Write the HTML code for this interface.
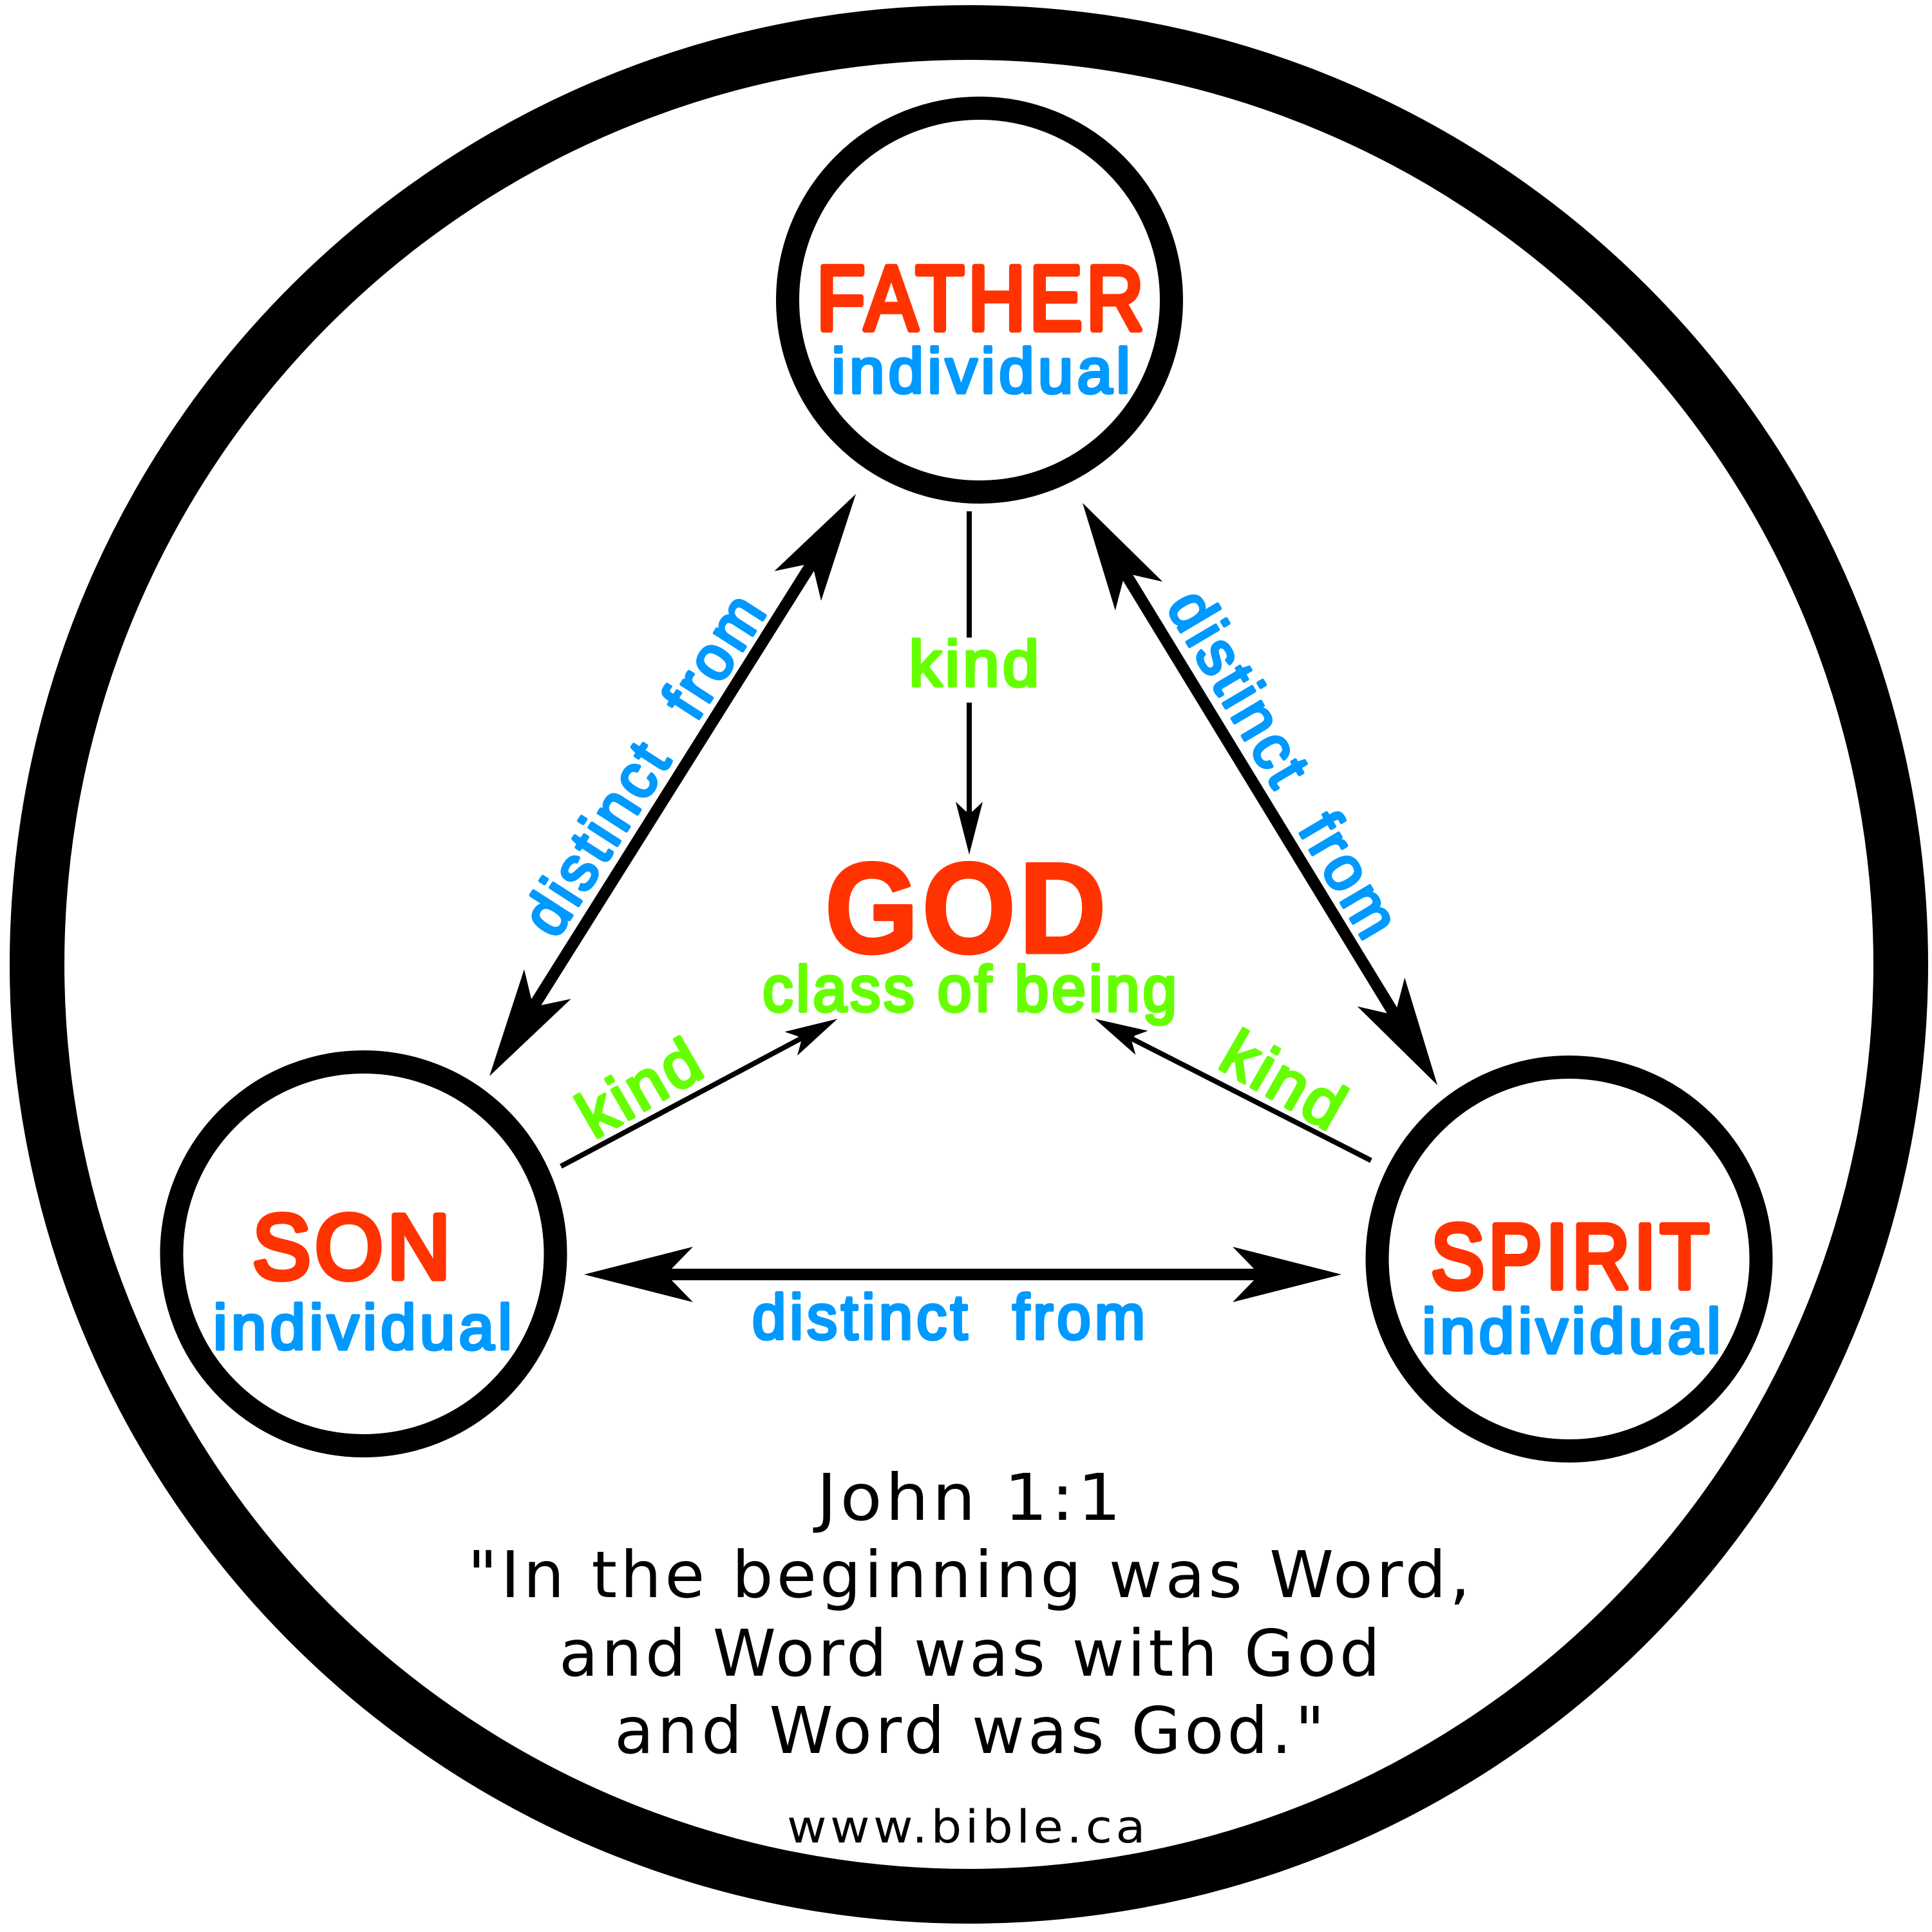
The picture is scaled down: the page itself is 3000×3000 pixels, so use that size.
<!DOCTYPE html>
<html><head><meta charset="utf-8"><style>
html,body{margin:0;padding:0;background:#fff;width:3000px;height:3000px;overflow:hidden}
svg{display:block}
text{font-family:"Liberation Sans",sans-serif;stroke-linejoin:round;stroke-linecap:round;text-anchor:middle}
.r{fill:#ff3300;stroke:#ff3300;stroke-width:9;font-size:142px;letter-spacing:7px}
.b{fill:#0099ff;stroke:#0099ff;stroke-width:5;font-size:98px;letter-spacing:6px}
.g{fill:#66ff00;stroke:#66ff00;stroke-width:5;font-size:100px;letter-spacing:5px}
.k{font-family:"DejaVu Sans",sans-serif;fill:#000;letter-spacing:5px}
</style></head><body>
<svg width="3000" height="3000" viewBox="0 0 3000 3000" xmlns="http://www.w3.org/2000/svg">
<defs>
<path id="H" d="M0 0L-169 -43L-136 -9L-136 9L-169 43Z"/>
<path id="T" d="M0 0L-82 -21L-67 -5L-67 5L-82 21Z"/>
</defs>
<rect width="3000" height="3000" fill="#fff"/>
<ellipse cx="1504.5" cy="1497.5" rx="1447" ry="1447" fill="none" stroke="#000" stroke-width="85"/>
<circle cx="1521" cy="466" r="298" fill="none" stroke="#000" stroke-width="36"/>
<circle cx="564.5" cy="1947" r="298" fill="none" stroke="#000" stroke-width="36"/>
<circle cx="2436.5" cy="1955" r="298" fill="none" stroke="#000" stroke-width="36"/>

<g stroke="#000" stroke-width="18" fill="none">
<line x1="1270" y1="860" x2="819" y2="1578"/>
<line x1="1738" y1="875" x2="2175" y2="1591"/>
<line x1="1017" y1="1979" x2="1973" y2="1979"/>
</g>
<use href="#H" transform="translate(1329 767) rotate(-57.7)"/>
<use href="#H" transform="translate(760 1671) rotate(122.3)"/>
<use href="#H" transform="translate(1681 781) rotate(-121.2)"/>
<use href="#H" transform="translate(2232 1685) rotate(58.8)"/>
<use href="#H" transform="translate(907 1979) rotate(180)"/>
<use href="#H" transform="translate(2083 1979)"/>

<g stroke="#000" stroke-width="8" fill="none">
<line x1="1505" y1="794" x2="1505" y2="990"/>
<line x1="1505" y1="1091" x2="1505" y2="1277"/>
<line x1="871" y1="1811" x2="1256" y2="1606"/>
<line x1="2129" y1="1802" x2="1744" y2="1606"/>
</g>
<use href="#T" transform="translate(1505 1327) rotate(90)"/>
<use href="#T" transform="translate(1300.5 1582) rotate(-28.1)"/>
<use href="#T" transform="translate(1700 1582) rotate(-152.9)"/>

<text class="r" x="1525" y="512" textLength="514" lengthAdjust="spacingAndGlyphs">FATHER</text>
<text class="r" x="549" y="1985" textLength="314" lengthAdjust="spacingAndGlyphs">SON</text>
<text class="r" x="2441" y="2000" textLength="438" lengthAdjust="spacingAndGlyphs">SPIRIT</text>
<text class="b" x="1526" y="610" textLength="470" lengthAdjust="spacingAndGlyphs">individual</text>
<text class="b" x="566" y="2095" textLength="470" lengthAdjust="spacingAndGlyphs">individual</text>
<text class="b" x="2443" y="2101" textLength="470" lengthAdjust="spacingAndGlyphs">individual</text>

<text x="1502" y="1479" font-weight="700" font-size="200" fill="#ff3300" stroke="#ff3300" stroke-width="5" letter-spacing="6" textLength="442" lengthAdjust="spacingAndGlyphs">GOD</text>
<text class="g" x="1508" y="1570" textLength="648" lengthAdjust="spacingAndGlyphs">class of being</text>
<text class="g" x="1515" y="1065" textLength="207" lengthAdjust="spacingAndGlyphs">kind</text>
<text class="g" transform="translate(1012 1718) rotate(-30)" textLength="207" lengthAdjust="spacingAndGlyphs">kind</text>
<text class="g" transform="translate(1978 1708) rotate(30)" textLength="207" lengthAdjust="spacingAndGlyphs">kind</text>

<text class="b" transform="translate(1029 1203) rotate(-57.2)" textLength="612" lengthAdjust="spacingAndGlyphs">distinct&#160;&#160;from</text>
<text class="b" transform="translate(1966 1205) rotate(59.4)" textLength="612" lengthAdjust="spacingAndGlyphs">distinct&#160;&#160;from</text>
<text class="b" x="1476" y="2079" textLength="616" lengthAdjust="spacingAndGlyphs">distinct&#160;&#160;from</text>

<text class="k" x="1507" y="2360" font-size="100" textLength="478" lengthAdjust="spacingAndGlyphs">John 1:1</text>
<text class="k" x="1507" y="2480" font-size="100" textLength="1562" lengthAdjust="spacingAndGlyphs">"In the beginning was Word,</text>
<text class="k" x="1508" y="2602" font-size="100" textLength="1280" lengthAdjust="spacingAndGlyphs">and Word was with God</text>
<text class="k" x="1508" y="2722" font-size="100" textLength="1108" lengthAdjust="spacingAndGlyphs">and Word was God."</text>
<text class="k" x="1503" y="2861" font-size="70" textLength="562" lengthAdjust="spacingAndGlyphs">www.bible.ca</text>
</svg>
</body></html>
